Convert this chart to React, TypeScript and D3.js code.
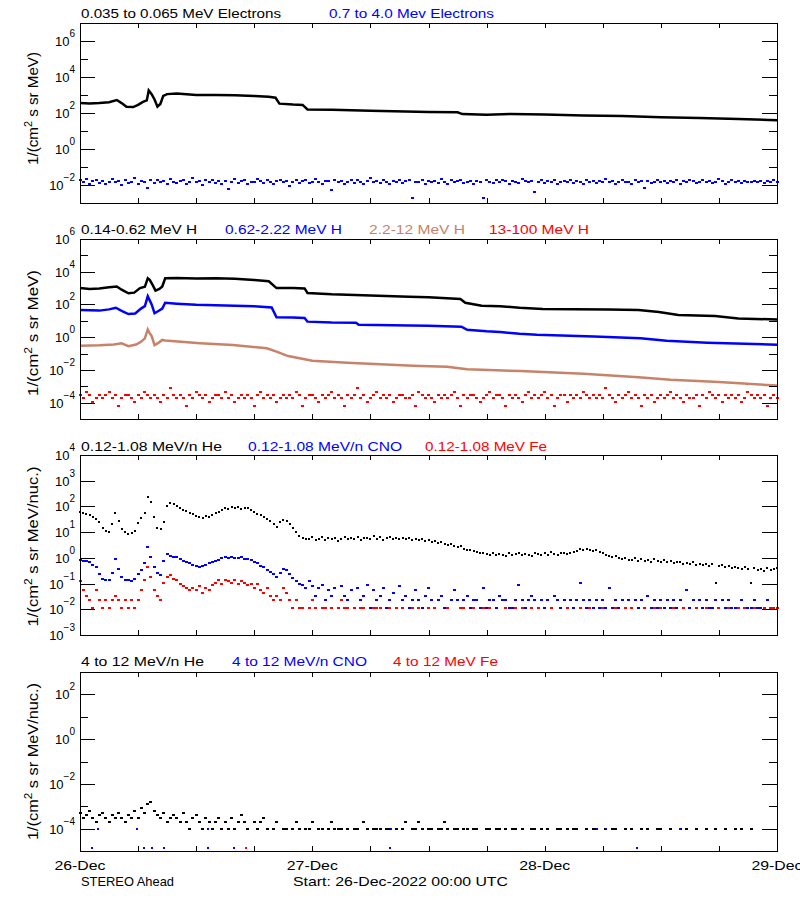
import React from 'react';
import * as d3 from 'd3';

// ---------------- DATA ----------------
// Time in hours after 26-Dec-2022 00:00 UTC
const dayLabels = ['26-Dec', '27-Dec', '28-Dec', '29-Dec'];
const dayHours = [0, 24, 48, 72];
const spacecraft = 'STEREO Ahead';
const startText = 'Start: 26-Dec-2022 00:00 UTC';

// Panel titles
const titles1 = ['0.035 to 0.065 MeV Electrons', '0.7 to 4.0 Mev Electrons'];
const titles2 = ['0.14-0.62 MeV H', '0.62-2.22 MeV H', '2.2-12 MeV H', '13-100 MeV H'];
const titles3 = ['0.12-1.08 MeV/n He', '0.12-1.08 MeV/n CNO', '0.12-1.08 MeV Fe'];
const titles4 = ['4 to 12 MeV/n He', '4 to 12 MeV/n CNO', '4 to 12 MeV Fe'];

// Panel 1: 0.035-0.065 MeV electrons (1/(cm2 s sr MeV))
const eLoT = [0,1,2,3,3.8,4.3,4.8,5.5,6,6.5,6.9,7.1,7.4,7.7,8.0,8.3,8.6,9,10,12,14,16,18,19.5,20.2,20.6,22,23,23.5,26,30,36,39,39.5,42,44.5,48,52,56,60,64,68,72];
const eLo = [355,340,355,400,525,355,224,214,282,417,500,1780,1120,562,224,316,890,1120,1200,1000,1000,955,890,795,708,330,295,282,158,151,132,115,110,87,79,89,83,72,68,58,52,46,40];

// Panel 1: 0.7-4.0 MeV electrons, 20-min cadence, units of 1e-3
const eHiUnit = 1e-3;
const eHi = [
18,14,22,12,16,20,13,17,11,15, 21,14,16,10,19,13,15,24,12,17,
15,7,18,13,20,14,16,11,22,15, 13,17,19,12,15,23,14,16,10,18,
14,20,13,16,12,17,6,15,21,13, 16,19,11,15,14,22,17,13,18,15,
12,16,20,14,17,9,15,19,13,16, 18,13,15,21,14,12,17,16,5,19,
14,17,12,15,20,13,18,15,11,16, 25,14,16,13,19,15,12,17,14,20,
13,16,18,2,15,14,19,12,17,15, 16,13,21,15,11,18,14,16,20,13,
15,17,12,16,14,2,19,15,13,18, 14,20,16,12,17,15,13,22,16,14,
17,4,15,18,13,16,14,20,12,15, 16,14,19,13,17,15,11,18,14,16,
13,17,15,21,14,16,12,15,19,14, 15,12,18,14,16,7,17,13,15,20,
14,16,13,17,15,19,12,16,14,18, 16,13,15,20,14,17,13,15,22,16,
12,15,18,14,16,13,17,15,14,16, 15,17,13,16,14,18,15];

// Panel 2: protons
const hLoT = [0,1,2,3,3.8,4.3,5,5.6,6.2,6.7,7.0,7.2,7.5,7.8,8.2,8.5,8.8,10,12,14,16,18,19.5,20.3,22,23.2,23.5,26,30,34,36,39.3,39.8,41.5,43.4,45.4,47.8,51,54.6,57.7,59.8,61.8,65.6,68,72];
const hLo = [1000,890,930,1120,1260,795,480,525,1000,1200,3980,3160,1580,708,890,1260,3980,4170,3800,3980,3720,3160,2630,1000,1000,955,500,417,355,295,275,214,126,83,79,63,52,51,50,46,35,23,19.5,14,12];

const hMidT = [0,1,2,3,3.7,4.3,5,5.7,6.3,6.7,7.0,7.2,7.4,7.7,8.1,8.5,8.8,10,12,14,16,18,19.8,20.3,22,23.2,23.5,26,28.5,28.8,34,36,39.4,40,42,43.4,45.4,47.2,53.1,57.9,60.6,64.8,72];
const hMid = [46,44,42,50,63,40,26,28,56,79,316,178,100,29,40,56,126,112,95,89,83,79,66,16.6,15.8,15.1,8.9,7.9,7.6,5.75,5.2,5.0,4.4,2.8,2.3,2.1,1.6,1.4,1.1,0.85,0.6,0.46,0.35];

const hHiT = [0,2,3.5,4.3,5,5.8,6.3,6.7,7.0,7.2,7.4,7.7,8.1,8.5,8.8,12.4,15.8,19.3,20.3,21.5,24,27.6,31,34.4,37.9,40,45.5,52,57.7,61,66,72];
const hHi = [0.30,0.32,0.355,0.42,0.28,0.355,0.52,0.85,3.0,1.78,1.17,0.33,0.45,0.68,0.63,0.43,0.33,0.21,0.13,0.07,0.036,0.0275,0.022,0.018,0.0158,0.011,0.0085,0.0058,0.0035,0.0025,0.0018,0.0011];

// 13-100 MeV H, 20-min cadence, units of 1e-4
const hVhUnit = 1e-4;
const hVh = [
3,2,4.5,3,1.1,2,3,2,3,4.5, 2,3,0.6,2,3,3,2,1.1,3,2,
4.5,3,2,3,2,1.1,3,2,8,3, 2,3,2,0.6,3,2,4.5,3,2,3,
1.1,2,3,3,2,4.5,2,3,1.1,2, 3,2,3,2,0.6,3,4.5,2,3,2,
3,1.1,2,3,2,3,2,4.5,3,0.6, 2,3,3,2,1.1,3,2,3,4.5,2,
3,2,0.6,3,2,3,8,2,3,1.1, 2,3,4.5,2,3,2,3,1.1,2,3,
3,2,2,3,0.6,4.5,3,2,3,2, 1.1,3,2,3,2,3,4.5,2,0.6,3,
2,3,3,2,1.1,2,3,4.5,2,3, 3,2,0.6,3,2,3,2,1.1,3,4.5,
2,3,2,3,4.5,2,3,0.6,2,3, 3,1.1,3,2,3,2,4.5,3,2,3,
2,3,2,8,3,2,1.1,3,2,3, 4.5,2,3,2,0.6,3,2,3,1.1,2,
3,2,3,4.5,2,3,2,1.1,3,2, 2,3,0.6,3,2,4.5,3,2,3,1.1,
3,2,3,2,3,1.1,2,4.5,3,2, 3,2,3,0.6,2,3,2];

// Panel 3: 0.12-1.08 MeV/n He, 20-min cadence
const heLo = [
62,55,50,45,40,32,24,14,11,10, 20,55,28,13,10,8.5,9,11,22,35,
55,240,150,40,14,13,25,105,130,120, 100,90,75,65,55,50,42,38,36,42,
40,48,55,62,75,85,80,92,88,95, 80,90,85,70,60,50,45,38,32,28,
20,16,24,30,26,20,14,10,7,6, 5.2,5.6,6.2,4.9,5.5,6.4,5.1,5.8,5.3,6.0,
4.7,5.6,6.3,5.2,5.9,5.4,6.6,5.0,5.7,6.1, 5.3,6.8,5.6,6.2,5.1,5.9,6.4,5.5,6.0,5.2,
5.8,5.4,6.1,4.9,5.6,4.8,5.2,4.5,4.9,4.3, 4.6,3.9,4.2,3.6,3.3,3.5,2.9,2.6,2.8,2.3,
2.1,2.0,1.8,1.7,1.5,1.6,1.4,1.3,1.5,1.25, 1.45,1.35,1.15,1.5,1.3,1.4,1.6,1.25,1.45,1.35,
1.2,1.5,1.4,1.3,1.55,1.35,1.7,1.4,1.3,1.5, 1.6,1.45,1.55,1.75,1.9,2.2,2.0,2.3,2.1,1.8,
2.0,1.7,1.5,1.3,1.2,1.05,1.15,0.95,0.9,1.0, 0.85,0.8,0.95,0.75,0.88,0.78,0.82,0.7,0.9,0.76,
0.72,0.8,0.66,0.74,0.62,0.7,0.68,0.58,0.64,0.6, 0.66,0.55,0.6,0.52,0.58,0.5,0.56,0.11,0.48,0.54,
0.46,0.5,0.42,0.45,0.4,0.38,0.44,0.36,0.11,0.4, 0.34,0.38,0.32,0.4,0.35,0.37,0.42];

// Panel 3: CNO and Fe counts, 20-min cadence; value = count * lowIonUnit
const lowIonUnit = 0.011;
const cnoLo = [
75,70,68,60,50,40,22,14,12,13, 24,85,35,16,12,13,11,14,22,30,
55,240,95,40,24,19,70,125,110,100, 95,85,70,62,55,48,42,40,45,48,
55,62,70,78,88,95,90,100,92,88, 95,85,80,78,65,55,45,40,32,25,
22,16,24,34,30,22,15,11,9,8, 6,11,7,3,6,8,2,5,3,6,
1,7,3,2,5,1,6,2,3,8, 1,5,2,3,6,1,2,4,1,7,
2,3,1,2,5,2,1,3,6,2, 1,2,3,1,1,2,5,2,1,2,
3,1,2,2,1,6,1,2,2,1, 3,2,2,1,1,2,8,2,1,2,
3,2,1,2,1,2,1,3,2,1, 2,1,2,1,2,10,2,1,2,1,
2,1,2,1,6,1,2,1,2,1, 2,1,2,1,2,1,3,1,2,1,
2,1,2,1,2,1,2,1,5,1, 2,1,2,1,2,1,1,2,1,2,
1,2,1,1,1,2,1,1,1,2, 1,1,1,2,1,1,1];
const feLo = [
11,5,3,2,1,5,2,1,2,1, 2,3,2,1,2,1,2,1,2,5,
12,40,16,5,3,2,10,17,20,14, 12,9,7,6,5,6,5,7,4,6,
5,8,10,12,9,13,11,10,12,9, 11,10,8,9,6,9,5,4,6,3,
2,3,2,6,4,2,1,2,1,1, 0,1,2,1,0,1,1,0,1,0,
1,2,1,1,0,1,0,1,1,0, 0,1,1,1,0,0,1,0,1,0,
1,0,0,1,0,1,0,0,1,0, 1,0,0,0,1,0,0,0,1,1,
0,0,1,0,0,1,0,1,0,0, 0,0,1,0,0,1,0,1,0,0,
1,0,1,0,0,0,1,0,0,0, 0,1,0,0,0,1,0,0,1,0,
0,0,1,0,0,0,1,0,0,1, 0,1,0,0,0,1,0,0,1,0,
1,0,0,0,1,0,0,1,0,0, 0,1,0,0,1,0,0,0,1,0,
0,1,0,0,1,0,1,0,0,1, 0,0,1,0,1,1,1];

// Panel 4: 4-12 MeV/n He counts, 20-min cadence; value = count * hiHeUnit
const hiHeUnit = 1e-4;
const heHi = [
5,3,4,6,3,2,4,5,3,2, 4,3,5,3,2,4,3,6,3,8,
5,13,16,6,4,3,5,2,3,4, 3,2,5,2,1,3,4,2,1,3,
2,1,2,3,1,2,1,3,1,2, 4,2,1,0,2,1,2,3,1,0,
1,2,0,1,1,0,1,2,1,0, 1,1,2,0,1,1,0,1,2,1,
1,1,0,1,0,1,1,0,2,1, 0,1,1,1,0,1,1,0,1,0,
1,2,0,1,1,2,1,0,1,1, 0,1,1,2,1,0,1,1,0,1,
1,0,1,1,0,0,1,1,0,1, 1,0,1,0,1,1,0,1,0,0,
1,1,0,1,0,1,0,0,1,1, 0,1,0,1,1,0,0,1,0,1,
1,0,0,1,0,1,1,0,0,1, 0,1,0,0,1,0,1,0,0,1,
1,0,0,1,0,0,1,0,1,0, 0,1,0,0,1,0,0,1,0,0,
1,0,0,1,0,1,0,0,1,0, 0,0,0,0,0,0,0];
// Panel 4: sparse CNO and Fe points
const cnoHiT = [1.2,1.9,5.9,6.6,7.4,8.7,13.2,13.2,15.9,32.0,32.1,53.4,54.3,57.5,62.0];
const cnoHi = [1.3e-5,1e-4,1e-4,1.3e-5,1.3e-5,1.3e-5,1.3e-5,1e-4,1.3e-5,1.3e-5,1e-4,1e-4,1e-4,1.3e-5,1e-4];
const feHiT = [17.1];
const feHi = [1.3e-5];

// ---------------- LAYOUT / STYLE ----------------
const FONT = "'Liberation Sans', Arial, sans-serif";
const BLACK = '#000000';
const BLUE = '#0000ff';
const RED = '#ff0000';
const BROWN = '#c8826a';
const X0 = 80, X1 = 777;

type Pt = { t: number; v: number };
const pairs = (t: number[], v: number[]): Pt[] => t.map((tt, i) => ({ t: tt, v: v[i] }));
const cadence = (vals: number[], step: number, unit = 1): Pt[] =>
  vals.map((c, i) => ({ t: i * step, v: c * unit })).filter((p) => p.v > 0);

interface PanelDef {
  top: number; bottom: number; lo: number; hi: number;
  labels: number[]; minors: number[];
  titleY: number; titles: string[]; titleX: number[]; titleW: number[]; titleC: string[];
  yUnit: string; yLen: number; yCy: number;
}

const panels: PanelDef[] = [
  { top: 23, bottom: 203, lo: -3, hi: 7, labels: [6, 4, 2, 0, -2], minors: [5, 3, 1, -1],
    titleY: 18, titles: titles1, titleX: [81, 329], titleW: [200, 165], titleC: [BLACK, BLUE],
    yUnit: ' s sr MeV)', yLen: 113, yCy: 108.5 },
  { top: 239, bottom: 419, lo: -5, hi: 6, labels: [6, 4, 2, 0, -2, -4], minors: [5, 3, 1, -1, -3],
    titleY: 234, titles: titles2, titleX: [81, 225, 369, 489], titleW: [116, 117, 96, 100], titleC: [BLACK, BLUE, BROWN, RED],
    yUnit: ' s sr MeV)', yLen: 126, yCy: 333 },
  { top: 455, bottom: 635, lo: -3, hi: 4, labels: [4, 3, 2, 1, 0, -1, -2, -3], minors: [],
    titleY: 451, titles: titles3, titleX: [81, 248, 425], titleW: [141, 154, 122], titleC: [BLACK, BLUE, RED],
    yUnit: ' s sr MeV/nuc.)', yLen: 160, yCy: 546.5 },
  { top: 672, bottom: 851, lo: -5, hi: 3, labels: [2, 0, -2, -4], minors: [1, -1, -3],
    titleY: 666, titles: titles4, titleX: [81, 232, 393], titleW: [123, 135, 105], titleC: [BLACK, BLUE, RED],
    yUnit: ' s sr MeV/nuc.)', yLen: 157, yCy: 761.5 },
];

const x = d3.scaleLinear().domain([0, 72]).range([X0, X1]);

function Dots({ pts, y, color, w = 2, h = 2 }: { pts: Pt[]; y: d3.ScaleLogarithmic<number, number>; color: string; w?: number; h?: number }) {
  return (
    <g fill={color} shapeRendering="crispEdges">
      {pts.map((p, i) => (
        <rect key={i} x={Math.round(x(p.t) - w / 2)} y={Math.round(y(p.v) - h / 2)} width={w} height={h} />
      ))}
    </g>
  );
}

function Line({ pts, y, color, width = 2.5 }: { pts: Pt[]; y: d3.ScaleLogarithmic<number, number>; color: string; width?: number }) {
  const gen = d3.line<Pt>().x((p) => x(p.t)).y((p) => y(p.v));
  return <path d={gen(pts) || ''} fill="none" stroke={color} strokeWidth={width} strokeLinejoin="miter" />;
}

function Axes({ p, y }: { p: PanelDef; y: d3.ScaleLogarithmic<number, number> }) {
  const xt = d3.range(0, 73, 6);
  return (
    <g stroke={BLACK} strokeWidth={1} shapeRendering="crispEdges">
      <rect x={X0 + 0.5} y={p.top + 0.5} width={X1 - X0} height={p.bottom - p.top} fill="none" />
      {xt.map((t) => (
        <g key={'x' + t}>
          <line x1={Math.round(x(t)) + 0.5} x2={Math.round(x(t)) + 0.5} y1={p.bottom} y2={p.bottom - 5} />
          <line x1={Math.round(x(t)) + 0.5} x2={Math.round(x(t)) + 0.5} y1={p.top} y2={p.top + 5} />
        </g>
      ))}
      {p.labels.map((e) => {
        const yy = Math.round(y(Math.pow(10, e))) + 0.5;
        return (
          <g key={'M' + e}>
            <line x1={X0} x2={X0 + 15} y1={yy} y2={yy} />
            <line x1={X1} x2={X1 - 15} y1={yy} y2={yy} />
          </g>
        );
      })}
      {p.minors.map((e) => {
        const yy = Math.round(y(Math.pow(10, e))) + 0.5;
        return (
          <g key={'m' + e}>
            <line x1={X0} x2={X0 + 8} y1={yy} y2={yy} />
            <line x1={X1} x2={X1 - 8} y1={yy} y2={yy} />
          </g>
        );
      })}
    </g>
  );
}

function TickLabels({ p, y }: { p: PanelDef; y: d3.ScaleLogarithmic<number, number> }) {
  return (
    <g fontFamily={FONT} fill={BLACK}>
      {p.labels.map((e) => {
        const yy = y(Math.pow(10, e));
        const exp = e < 0 ? '\u2212' + Math.abs(e) : String(e);
        return (
          <text key={e} x={75} y={yy + 5} textAnchor="end" fontSize={13}>
            10<tspan dy={-9} fontSize={10}>{exp}</tspan>
          </text>
        );
      })}
    </g>
  );
}

function YTitle({ p }: { p: PanelDef }) {
  return (
    <text transform={`translate(38,${p.yCy}) rotate(-90)`} textAnchor="middle" fontFamily={FONT} fontSize={14}
      textLength={p.yLen} lengthAdjust="spacingAndGlyphs" fill={BLACK}>
      1/(cm<tspan dy={-6} fontSize={10}>2</tspan><tspan dy={6}>{p.yUnit}</tspan>
    </text>
  );
}

export default function App() {
  const ys = panels.map((p) =>
    d3.scaleLog().domain([Math.pow(10, p.lo), Math.pow(10, p.hi)]).range([p.bottom, p.top])
  );
  const [y1, y2, y3, y4] = ys;

  return (
    <div style={{ position: 'absolute', left: 0, top: 0 }}>
      <svg width={800} height={900} viewBox="0 0 800 900" style={{ display: 'block', background: '#fff' }}>
        <rect x={0} y={0} width={800} height={900} fill="#fff" />
        {/* titles */}
        {panels.map((p, pi) => (
          <g key={'t' + pi} fontFamily={FONT} fontSize={13}>
            {p.titles.map((s, i) => (
              <text key={i} x={p.titleX[i]} y={p.titleY} fill={p.titleC[i]} textLength={p.titleW[i]} lengthAdjust="spacingAndGlyphs">{s}</text>
            ))}
          </g>
        ))}

        {/* Panel 1 */}
        <Line pts={pairs(eLoT, eLo)} y={y1} color={BLACK} width={2.5} />
        <Dots pts={cadence(eHi, 1 / 3, eHiUnit)} y={y1} color={BLUE} w={3} />

        {/* Panel 2 */}
        <Line pts={pairs(hLoT, hLo)} y={y2} color={BLACK} width={2.5} />
        <Line pts={pairs(hMidT, hMid)} y={y2} color={BLUE} width={2.5} />
        <Line pts={pairs(hHiT, hHi)} y={y2} color={BROWN} width={2.5} />
        <Dots pts={cadence(hVh, 1 / 3, hVhUnit)} y={y2} color={RED} w={3} />

        {/* Panel 3 */}
        <Dots pts={cadence(heLo, 1 / 3)} y={y3} color={BLACK} />
        <Dots pts={cadence(cnoLo, 1 / 3, lowIonUnit)} y={y3} color={BLUE} w={3} />
        <Dots pts={cadence(feLo, 1 / 3, lowIonUnit)} y={y3} color={RED} w={3} />

        {/* Panel 4 */}
        <Dots pts={cadence(heHi, 1 / 3, hiHeUnit)} y={y4} color={BLACK} w={3} />
        <Dots pts={pairs(cnoHiT, cnoHi)} y={y4} color={BLUE} />
        <Dots pts={pairs(feHiT, feHi)} y={y4} color={RED} />

        {panels.map((p, i) => (
          <g key={'a' + i}>
            <Axes p={p} y={ys[i]} />
            <TickLabels p={p} y={ys[i]} />
            <YTitle p={p} />
          </g>
        ))}

        {/* bottom axis labels */}
        <g fontFamily={FONT} fontSize={13} fill={BLACK}>
          {dayLabels.map((d, i) => (
            <text key={d} x={x(dayHours[i])} y={870} textAnchor="middle" textLength={51} lengthAdjust="spacingAndGlyphs">{d}</text>
          ))}
          <text x={81} y={885.5} textLength={93} lengthAdjust="spacingAndGlyphs">{spacecraft}</text>
          <text x={293} y={885.5} textLength={215} lengthAdjust="spacingAndGlyphs">{startText}</text>
        </g>
      </svg>
    </div>
  );
}
